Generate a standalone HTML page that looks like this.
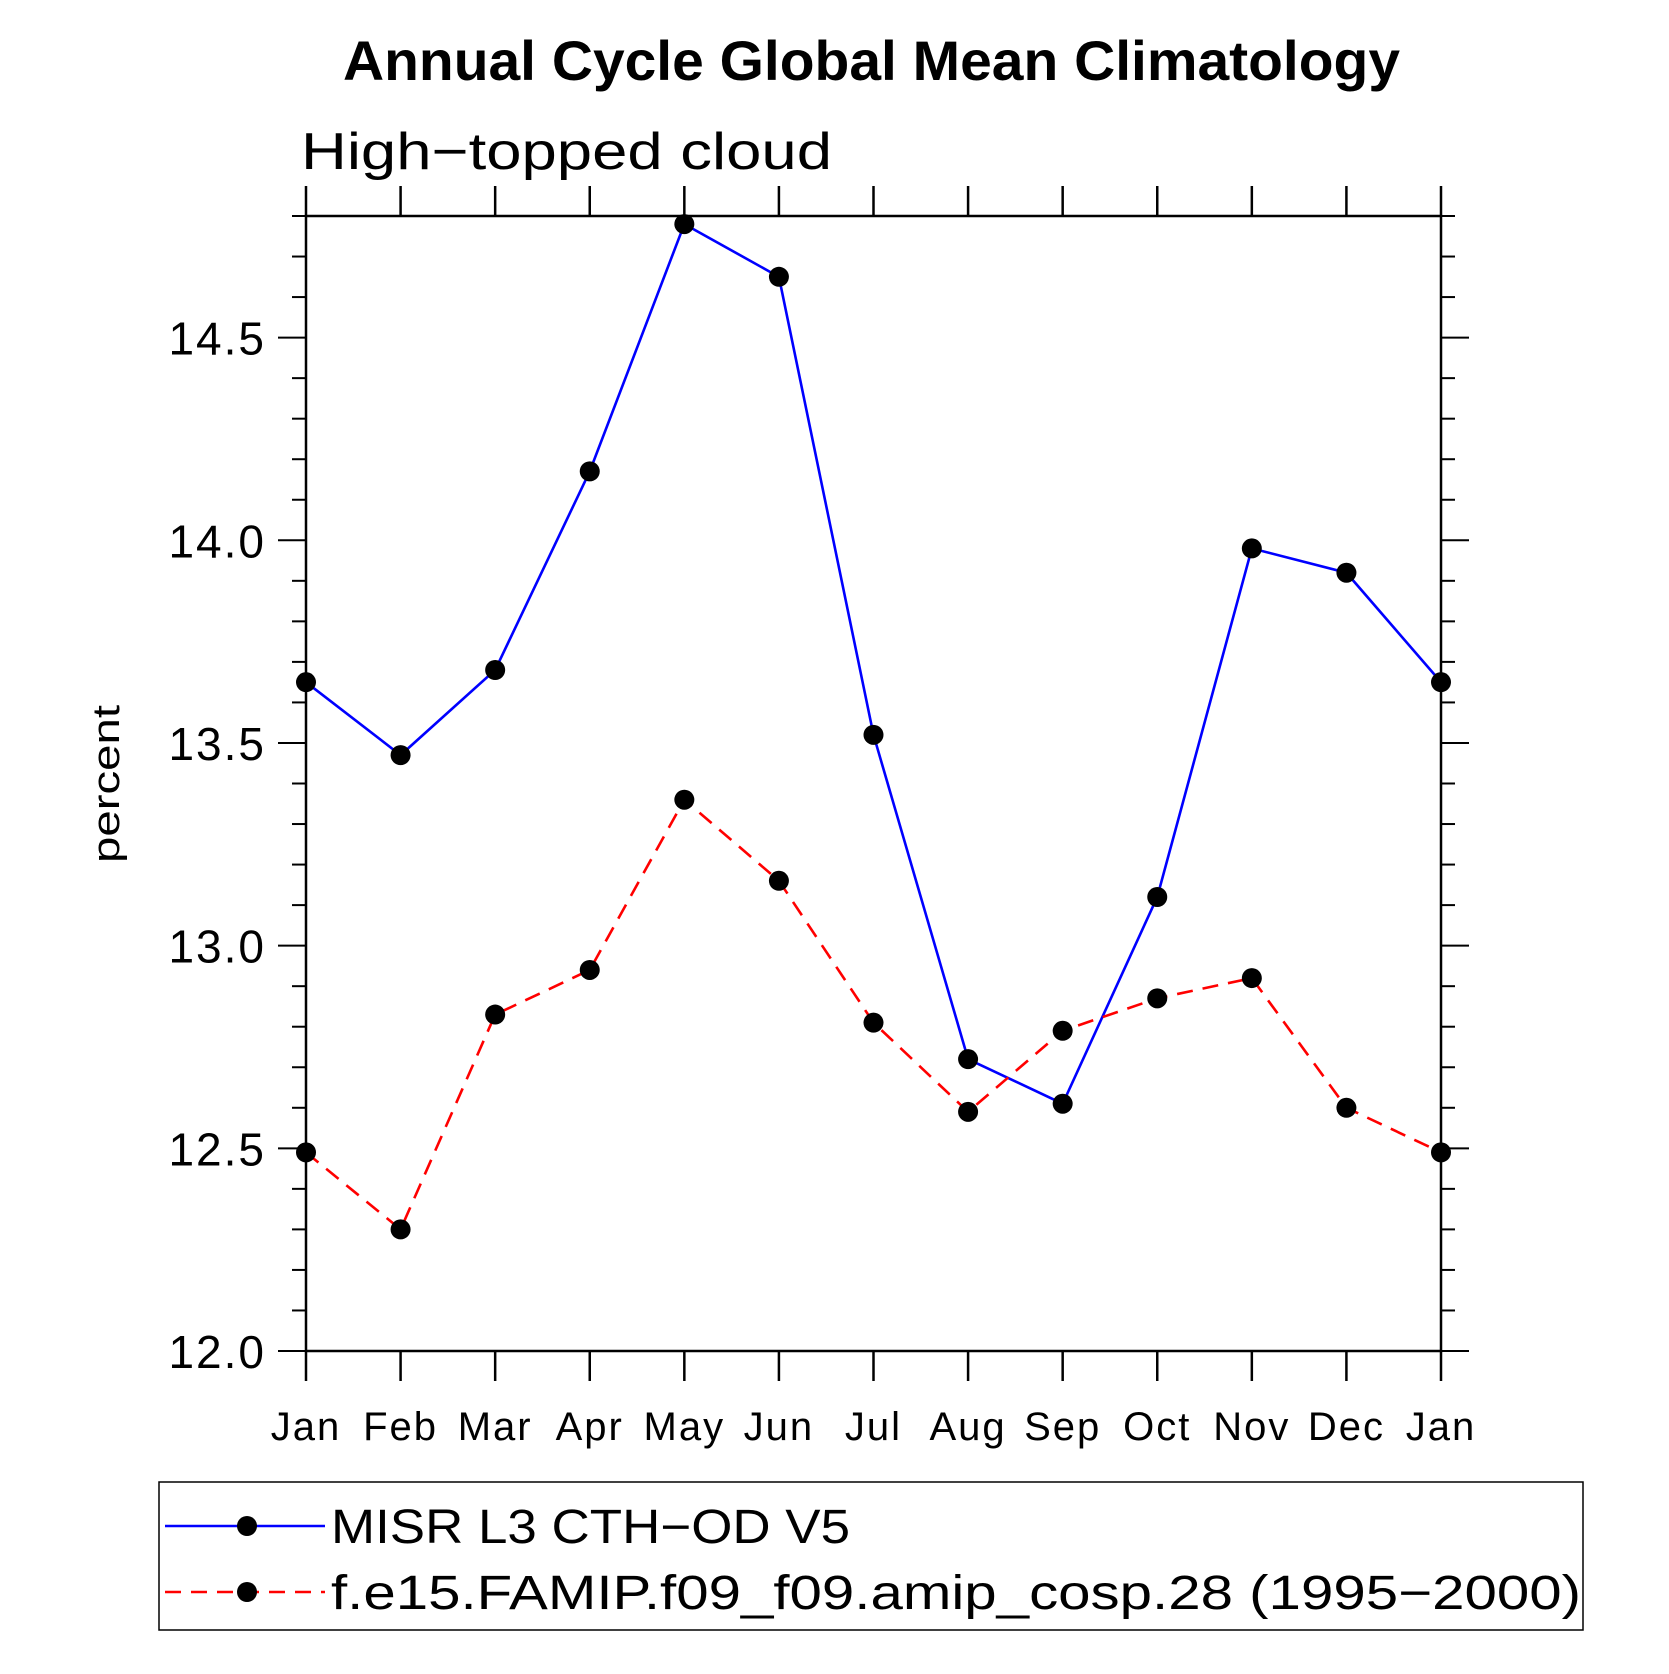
<!DOCTYPE html>
<html><head><meta charset="utf-8"><style>
html,body{margin:0;padding:0;background:#fff;}
svg text{font-family:"Liberation Sans",sans-serif;}
</style></head><body>
<svg id="chart" width="1669" height="1669" viewBox="0 0 1669 1669" xmlns="http://www.w3.org/2000/svg">
<text x="343" y="80" textLength="1057" lengthAdjust="spacingAndGlyphs" font-size="56" font-weight="bold">Annual Cycle Global Mean Climatology</text>
<text x="301" y="169" textLength="531" lengthAdjust="spacingAndGlyphs" font-size="52">High−topped cloud</text>
<text transform="translate(119,784) rotate(-90)" text-anchor="middle" textLength="158" lengthAdjust="spacingAndGlyphs" font-size="38">percent</text>
<g id="axes"></g>
<g id="series"></g>
<rect x="159" y="1482" width="1424" height="148" fill="none" stroke="#000" stroke-width="1.5"/>
<g>
<line x1="165" y1="1526" x2="325" y2="1526" stroke="#0000ff" stroke-width="2.5"/>
<circle cx="247" cy="1526" r="10" fill="#000"/>
<text x="331" y="1543" textLength="519" lengthAdjust="spacingAndGlyphs" font-size="48">MISR L3 CTH−OD V5</text>
</g>
<g>
<line x1="165" y1="1592" x2="325" y2="1592" stroke="#ff0000" stroke-width="2.5" stroke-dasharray="16,10"/>
<circle cx="247" cy="1592" r="10" fill="#000"/>
<text x="331" y="1609" textLength="1250" lengthAdjust="spacingAndGlyphs" font-size="48">f.e15.FAMIP.f09_f09.amip_cosp.28 (1995−2000)</text>
</g>
</svg>
<script>
const months = ["Jan","Feb","Mar","Apr","May","Jun","Jul","Aug","Sep","Oct","Nov","Dec","Jan"];
const misr = [13.65,13.47,13.68,14.17,14.78,14.65,13.52,12.72,12.61,13.12,13.98,13.92,13.65];
const model = [12.49,12.30,12.83,12.94,13.36,13.16,12.81,12.59,12.79,12.87,12.92,12.60,12.49];
const yTicks = [12.0,12.5,13.0,13.5,14.0,14.5];
const yMin = 12.0, yMax = 14.8;
const L=306,R=1441,T=216,B=1351;
const NS="http://www.w3.org/2000/svg";
function xs(i){return L+(R-L)*i/(months.length-1);}
function ys(v){return B-(B-T)*(v-yMin)/(yMax-yMin);}
function mk(tag,attrs,parent){const e=document.createElementNS(NS,tag);for(const k in attrs)e.setAttribute(k,attrs[k]);parent.appendChild(e);return e;}
const ax=document.getElementById('axes');
const frame=mk('rect',{x:L,y:T,width:R-L,height:B-T,fill:'none',stroke:'#000','stroke-width':2.5},ax);


for(let v=120;v<=148;v++){
  const y=ys(v/10);const major=(v%5===0);const len=major?28:14;
  mk('line',{x1:L-len,y1:y,x2:L,y2:y,stroke:'#000','stroke-width':2},ax);
  mk('line',{x1:R,y1:y,x2:R+len,y2:y,stroke:'#000','stroke-width':2},ax);
}
yTicks.forEach(v=>{
  const t=mk('text',{x:L-40,y:ys(v)+17,'text-anchor':'end','font-size':46,'letter-spacing':2},ax);
  t.textContent=v.toFixed(1);
  
  
});
months.forEach((m,i)=>{
  const x=xs(i);
  mk('line',{x1:x,y1:B,x2:x,y2:B+30,stroke:'#000','stroke-width':2.5},ax);
  mk('line',{x1:x,y1:T,x2:x,y2:T-30,stroke:'#000','stroke-width':2.5},ax);
  const t=mk('text',{x:x,y:1440,'text-anchor':'middle','font-size':40,'letter-spacing':2},ax);
  t.textContent=m;
  
  
});
const sg=document.getElementById('series');
function drawSeries(vals,color,dash,name){
  const pts=vals.map((v,i)=>xs(i)+','+ys(v)).join(' ');
  const pl=mk('polyline',{points:pts,fill:'none',stroke:color,'stroke-width':2.6},sg);
  if(dash)pl.setAttribute('stroke-dasharray',dash);
  
  
  vals.forEach((v,i)=>{
    const c=mk('circle',{cx:xs(i),cy:ys(v),r:10,fill:'#000'},sg);
    
    
  });
}
drawSeries(misr,'#0000ff',null,'misr');
drawSeries(model,'#ff0000','16,10','model');
</script>
</body></html>
